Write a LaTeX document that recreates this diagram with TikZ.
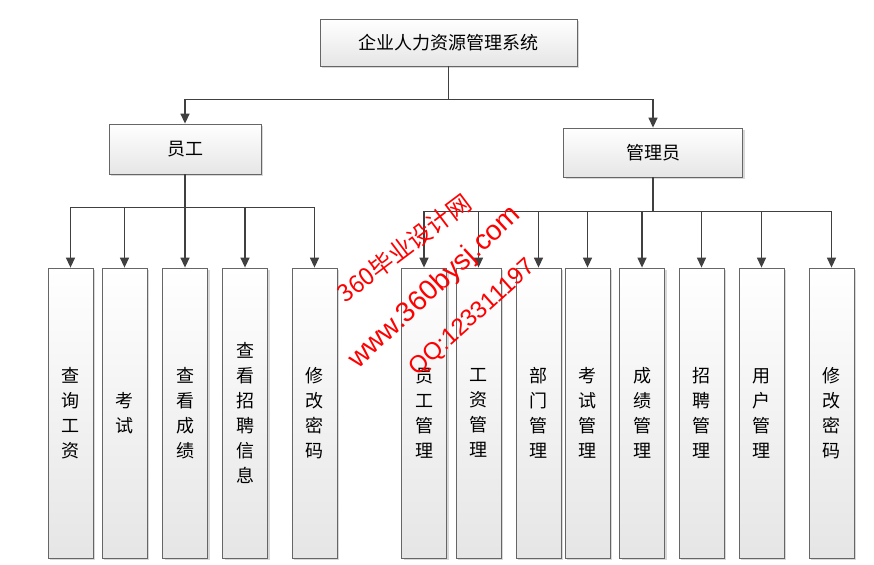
\documentclass[tikz,border=0pt]{standalone}
\usepackage{fontspec}
\setmainfont{Liberation Sans}
\newfontfamily\cjk{Noto Sans CJK SC}
\usepackage{tikz}
\usetikzlibrary{arrows.meta,shadows,calc}

\begin{document}
\begin{tikzpicture}[x=1pt, y=-1pt]
  \tikzstyle{box} = [draw=black!60, line width=0.8pt, inner sep=0pt,
                     top color=white, bottom color=black!10,
                     drop shadow={shadow xshift=2pt, shadow yshift=-2pt, fill=black!30},
                     font=\cjk\fontsize{18}{25}\selectfont, align=center]
  \tikzstyle{col} = [box, minimum width=45pt, minimum height=290pt]
  \tikzstyle{link} = [draw=black!75, line width=1.4pt]
  \tikzstyle{arrow} = [link, -{Triangle[length=10pt, width=9pt]}]
  \tikzstyle{stamp} = [text=red, inner sep=0pt]

  \fill[white] (0,0) rectangle (874,564);
  \useasboundingbox (0,0) rectangle (874,564);

  \def\C{413};

  % top nodes
  \node[box, minimum width=257pt, minimum height=47pt] (sys) at (448.5, 42.5) {企业人力资源管理系统};
  \node[box, minimum width=152pt, minimum height=50pt] (emp) at (185, 149) {员工};
  \node[box, minimum width=179pt, minimum height=49pt] (adm) at (653, 152.5) {管理员};

  % employee nodes
  \node[col] (e1) at ( 70.5, \C) {查\\询\\工\\资};
  \node[col] (e2) at (124.5, \C) {考\\试};
  \node[col] (e3) at (185,   \C) {查\\看\\成\\绩};
  \node[col] (e4) at (245,   \C) {查\\看\\招\\聘\\信\\息};
  \node[col] (e5) at (314.5, \C) {修\\改\\密\\码};

  % admin nodes
  \node[col] (a1) at (424,   \C) {员\\工\\管\\理};
  \node[col] (a2) at (478.5, \C) {工\\资\\管\\理};
  \node[col] (a3) at (538.5, \C) {部\\门\\管\\理};
  \node[col] (a4) at (587.5, \C) {考\\试\\管\\理};
  \node[col] (a5) at (642,   \C) {成\\绩\\管\\理};
  \node[col] (a6) at (701.5, \C) {招\\聘\\管\\理};
  \node[col] (a7) at (761.5, \C) {用\\户\\管\\理};
  \node[col] (a8) at (831.5, \C) {修\\改\\密\\码};

  % junctions
  \coordinate (j0) at ($(sys.south)+(0,33)$);
  \coordinate (j1) at ($(emp.south)+(0,33)$);
  \coordinate (j2) at ($(adm.south)+(0,34)$);

  % connection lines
  \draw[link] (sys) -- (j0);
  \draw[arrow] (j0) -| (emp);
  \draw[arrow] (j0) -| (adm);

  \draw[link] (emp) -- (j1);
  \foreach \n in {e1,e2,e3,e4,e5}
    \draw[arrow] (j1) -| (\n);

  \draw[link] (adm) -- (j2);
  \foreach \n in {a1,a2,a3,a4,a5,a6,a7,a8}
    \draw[arrow] (j2) -| (\n);

  % watermark
  \node[stamp, rotate=37, font=\cjk\fontsize{24}{24}\selectfont] (w1) at (404, 248) {360毕业设计网};
  \node[stamp, rotate=43, font=\fontsize{28}{28}\selectfont] (w2) at (435, 288) {www.360bysj.com};
  \node[stamp, rotate=42, font=\fontsize{24}{24}\selectfont] (w3) at (473, 318) {QQ:123311197};

\end{tikzpicture}
\end{document}
